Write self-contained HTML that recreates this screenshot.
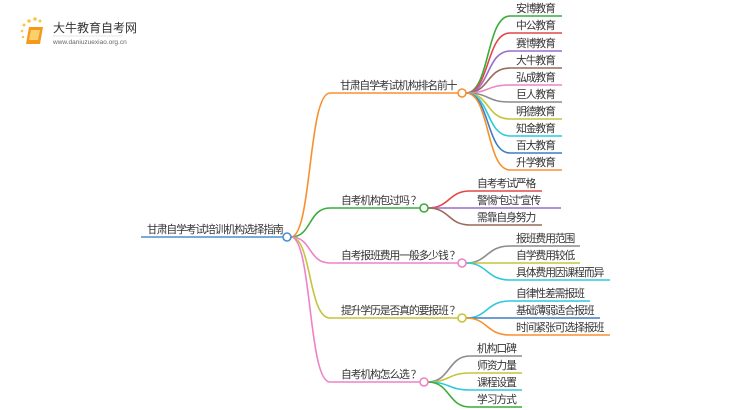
<!DOCTYPE html>
<html><head><meta charset="utf-8"><style>
html,body{margin:0;padding:0;background:#fff;width:750px;height:410px;overflow:hidden}
text{font-family:"Liberation Sans","Noto Sans CJK SC",sans-serif;fill:#333;font-size:10.8px;letter-spacing:-1.1px}
</style></head><body>
<svg width="750" height="410" xmlns="http://www.w3.org/2000/svg" fill="none" stroke-width="1.6">
<g stroke="none">
<circle cx="24" cy="25" r="1.5" fill="#f8c74a"/><circle cx="29" cy="21" r="1.8" fill="#f8c74a"/><circle cx="35" cy="19" r="1.8" fill="#f8c74a"/><circle cx="40" cy="21" r="1.5" fill="#f8c74a"/><circle cx="22" cy="31" r="1.3" fill="#f8c74a"/><circle cx="23" cy="37" r="1.2" fill="#f8c74a"/>
<path d="M29 27 L43 27 L40 44 L26 44 Z" fill="#f39a1e"/><path d="M31 30 L40 30 L38 40 L29 40 Z" fill="#fbd06a"/>
</g>
<text x="53" y="32" style="font-size:12px;letter-spacing:0;fill:#333">大牛教育自考网</text>
<line x1="53" y1="36" x2="123" y2="36" stroke="#ccc" stroke-width="0.6"/>
<text x="53" y="44" style="font-size:6.5px;letter-spacing:0;fill:#666">www.daniuzuexiao.org.cn</text>

<line x1="141" y1="237" x2="283" y2="237" stroke="#4a8fd0"/>
<text x="147" y="233">甘肃自学考试培训机构选择指南</text>
<path d="M291 237 C312 237 308 93 330 93 L458 93" stroke="#f7902f"/>
<path d="M291 237 C312 237 308 208 330 208 L420 208" stroke="#3aac3a"/>
<path d="M291 237 C312 237 308 263 330 263 L458 263" stroke="#ee82c8"/>
<path d="M291 237 C312 237 308 318 330 318 L458 318" stroke="#c6c43b"/>
<path d="M291 237 C312 237 308 382 330 382 L420 382" stroke="#ee82c8"/>
<circle cx="287" cy="237" r="4" fill="#fff" stroke="#4a8fd0"/>

<text x="340" y="89">甘肃自学考试机构排名前十</text>
<text x="341" y="204">自考机构包过吗 ？</text>
<text x="341" y="259">自考报班费用一般多少钱 ？</text>
<text x="341" y="314">提升学历是否真的要报班 ？</text>
<text x="341" y="378">自考机构怎么选 ？</text>

<g>
<path d="M466 93 C490 93 486 16 510 16 L562 16" stroke="#3aac3a"/>
<path d="M466 93 C490 93 486 33 510 33 L562 33" stroke="#e04848"/>
<path d="M466 93 C490 93 486 51 510 51 L562 51" stroke="#9b6cd0"/>
<path d="M466 93 C490 93 486 68 510 68 L562 68" stroke="#9a6a5a"/>
<path d="M466 93 C490 93 486 85 510 85 L562 85" stroke="#ee82c8"/>
<path d="M466 93 C490 93 486 102 510 102 L562 102" stroke="#8c8c8c"/>
<path d="M466 93 C490 93 486 119 510 119 L562 119" stroke="#c6c43b"/>
<path d="M466 93 C490 93 486 136 510 136 L562 136" stroke="#2ec9dc"/>
<path d="M466 93 C490 93 486 153 510 153 L562 153" stroke="#3b7fc4"/>
<path d="M466 93 C490 93 486 170 510 170 L562 170" stroke="#f7902f"/>
</g>
<circle cx="462" cy="93" r="4" fill="#fff" stroke="#f7902f"/>
<text x="516" y="12">安博教育</text><text x="516" y="29">中公教育</text><text x="516" y="47">赛博教育</text><text x="516" y="64">大牛教育</text><text x="516" y="81">弘成教育</text><text x="516" y="98">巨人教育</text><text x="516" y="115">明德教育</text><text x="516" y="132">知金教育</text><text x="516" y="149">百大教育</text><text x="516" y="166">升学教育</text>

<path d="M428 208 C450 208 448 191 470 191 L542 191" stroke="#e04848"/>
<path d="M428 208 L561 208" stroke="#9b6cd0"/>
<path d="M428 208 C450 208 448 225 470 225 L542 225" stroke="#9a6a5a"/>
<circle cx="424" cy="208" r="4" fill="#fff" stroke="#3aac3a"/>
<text x="477" y="187">自考考试严格</text><text x="477" y="204">警惕“包过”宣传</text><text x="477" y="221">需靠自身努力</text>

<path d="M466 263 C488 263 486 246 510 246 L580 246" stroke="#8c8c8c"/>
<path d="M466 263 L580 263" stroke="#c6c43b"/>
<path d="M466 263 C488 263 486 280 510 280 L610 280" stroke="#2ec9dc"/>
<circle cx="462" cy="263" r="4" fill="#fff" stroke="#ee82c8"/>
<text x="516" y="242">报班费用范围</text><text x="516" y="259">自学费用较低</text><text x="516" y="276">具体费用因课程而异</text>

<path d="M466 318 C488 318 486 301 510 301 L590 301" stroke="#2ec9dc"/>
<path d="M466 318 L600 318" stroke="#3b7fc4"/>
<path d="M466 318 C488 318 486 335 510 335 L610 335" stroke="#f7902f"/>
<circle cx="462" cy="318" r="4" fill="#fff" stroke="#c6c43b"/>
<text x="516" y="297">自律性差需报班</text><text x="516" y="314">基础薄弱适合报班</text><text x="516" y="331">时间紧张可选择报班</text>

<path d="M428 382 C450 382 448 356 470 356 L522 356" stroke="#8c8c8c"/>
<path d="M428 382 C450 382 448 373 470 373 L522 373" stroke="#c6c43b"/>
<path d="M428 382 C450 382 448 390 470 390 L522 390" stroke="#2ec9dc"/>
<path d="M428 382 C450 382 448 407 470 407 L522 407" stroke="#3aac3a"/>
<circle cx="424" cy="382" r="4" fill="#fff" stroke="#ee82c8"/>
<text x="477" y="352">机构口碑</text><text x="477" y="369">师资力量</text><text x="477" y="386">课程设置</text><text x="477" y="403">学习方式</text>
</svg>
</body></html>
